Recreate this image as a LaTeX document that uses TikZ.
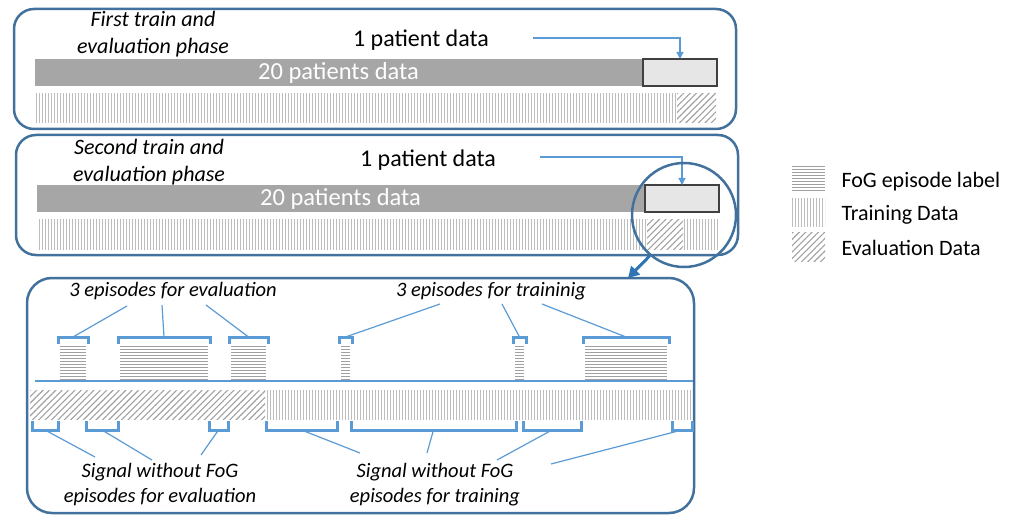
\documentclass[tikz,border=0pt]{standalone}
\usepackage{fontspec}
\setmainfont{Carlito}
\usepackage{xcolor}
\usepackage{tikz}
\usetikzlibrary{arrows.meta,patterns.meta,positioning}

\definecolor{boxblue}{HTML}{41719C}
\definecolor{linkblue}{HTML}{5B9BD5}
\definecolor{arrowblue}{HTML}{2E75B6}
\definecolor{barfill}{HTML}{A6A6A6}
\definecolor{cellfill}{HTML}{E6E6E6}
\definecolor{celldraw}{HTML}{404040}
\definecolor{stripe}{HTML}{BDBDBD}
\definecolor{hatch}{HTML}{A0A0A0}

\begin{document}
\begin{tikzpicture}[x=1pt,y=-1pt,
  phasebox/.style={draw=boxblue,line width=2.5pt,rounded corners=20pt},
  block/.style={anchor=north west,inner sep=0pt,outer sep=0pt},
  patientbar/.style={block,fill=barfill,text=white,font=\fontsize{24.5}{28}\selectfont},
  cellbox/.style={block,fill=cellfill,draw=celldraw,line width=2pt},
  trainpat/.style={block,pattern={Lines[angle=90,distance=3pt,line width=1pt]},pattern color=stripe},
  evalpat/.style={block,pattern={Lines[angle=45,distance=4.5pt,line width=1.1pt]},pattern color=hatch},
  fogpat/.style={block,path picture={
    \foreach \k in {1.5,4.5,...,34.5}
      \draw[hatch,line width=1pt] ([yshift=-\k pt]path picture bounding box.north west) -- ([yshift=-\k pt]path picture bounding box.north east);}},
  bigtext/.style={font=\fontsize{24}{28}\selectfont},
  phasetext/.style={align=center,font=\fontsize{22}{27}\selectfont\itshape},
  smalltext/.style={align=center,font=\fontsize{20.5}{25}\selectfont\itshape},
  legtext/.style={anchor=west,font=\fontsize{22}{26}\selectfont},
  conn/.style={draw=linkblue,line width=1.2pt},
  brk/.style={draw=linkblue,line width=3pt},
  tip/.style={-{Triangle[length=7pt,width=7pt]}}]

\useasboundingbox (0,0) rectangle (1021,516);

\draw[phasebox] (14,9) rectangle (736,129);
\node[phasetext] (phase) at (153,34) {First train and\\evaluation phase};
\node[bigtext] (one) at (421,40) {1 patient data};
\coordinate (onetail) at (533,38);

\node[patientbar,minimum width=607,minimum height=27] (rest) at (35,59) {20 patients data};
\node[cellbox,minimum width=74,minimum height=27] (cell) at (643,59) {};
\draw[conn,tip] (onetail) -| (cell.north);

\node[trainpat,minimum width=642,minimum height=29] (train) at (35,94) {};
\node[evalpat,minimum width=39,minimum height=29] (eval) at (677,94) {};

%%%%%%%%%%%%%%%
\begin{scope}[shift={(2,126)}]
\draw[phasebox] (14,9) rectangle (736,129);
\node[phasetext] (phase) at (147,36) {Second train and\\evaluation phase};
\node[bigtext] (one) at (426,34) {1 patient data};
\coordinate (onetail) at (538,31);

\node[patientbar,minimum width=607,minimum height=27] (rest) at (35,59) {20 patients data};
\node[cellbox,minimum width=74,minimum height=27] (cell) at (643,59) {};
\draw[conn,tip] (onetail) -| (cell.north);

\node[trainpat,minimum width=610,minimum height=29] (train) at (35,94) {};
\node[evalpat,minimum width=36,minimum height=29] (eval) at (645,94) {};
\node[trainpat,minimum width=36,minimum height=29] (trainb) at (681,94) {};

\node[circle,draw=boxblue,line width=2.5pt,minimum size=104,inner sep=0pt] (zoom) at (682,89) {};
\end{scope}

\coordinate (dtop) at (628,278);
\draw[draw=arrowblue,line width=3pt,-{Triangle[length=11pt,width=12pt]}] (zoom.230) -- (dtop);

%%%%%%%%%%%%%%%
\node[fogpat,minimum width=33,minimum height=28] (kfog) at (792,165) {};
\node[legtext] (kfogtext) at (838,182) {FoG episode label};
\node[trainpat,minimum width=33,minimum height=28] (ktrain) at (792,199) {};
\node[legtext] (ktraintext) at (838,215) {Training Data};
\node[evalpat,minimum width=33,minimum height=28] (keval) at (792,233) {};
\node[legtext] (kevaltext) at (838,248) {Evaluation Data};

%%%%%%%%%%%%%%%
\draw[phasebox,rounded corners=25pt] (27,278) rectangle (694,513);
\node[smalltext] (evalep) at (173,291) {3 episodes for evaluation};
\node[smalltext] (trainep) at (491,291) {3 episodes for traininig};

\node[fogpat,minimum width=26,minimum height=35] (e1) at (60,345) {};
\node[fogpat,minimum width=88,minimum height=35] (e2) at (120,345) {};
\node[fogpat,minimum width=35,minimum height=35] (e3) at (231,345) {};
\node[fogpat,minimum width=9,minimum height=35] (t1) at (341,345) {};
\node[fogpat,minimum width=9,minimum height=35] (t2) at (515,345) {};
\node[fogpat,minimum width=82,minimum height=35] (t3) at (585,345) {};

\draw[brk] ([shift={(-2,-1)}]e1.north west) |- ([shift={(0,-8)}]e1.north) -| ([shift={(2,-1)}]e1.north east);
\draw[brk] ([shift={(-2,-1)}]e2.north west) |- ([shift={(0,-8)}]e2.north) -| ([shift={(2,-1)}]e2.north east);
\draw[brk] ([shift={(-2,-1)}]e3.north west) |- ([shift={(0,-8)}]e3.north) -| ([shift={(2,-1)}]e3.north east);
\draw[brk] ([shift={(-2,-1)}]t1.north west) |- ([shift={(0,-8)}]t1.north) -| ([shift={(2,-1)}]t1.north east);
\draw[brk] ([shift={(-2,-1)}]t2.north west) |- ([shift={(0,-8)}]t2.north) -| ([shift={(2,-1)}]t2.north east);
\draw[brk] ([shift={(-2,-1)}]t3.north west) |- ([shift={(0,-8)}]t3.north) -| ([shift={(2,-1)}]t3.north east);

\coordinate (ce1) at (127,306);
\coordinate (ce2) at (162,305);
\coordinate (ce3) at (206,305);
\coordinate (ct1) at (440,304);
\coordinate (ct2) at (502,304);
\coordinate (ct3) at (542,304);
\draw[conn] ([shift={(0,-8)}]e1.north) -- (ce1);
\draw[conn] ([shift={(0,-8)}]e2.north) -- (ce2);
\draw[conn] ([shift={(0,-8)}]e3.north) -- (ce3);
\draw[conn] ([shift={(0,-8)}]t1.north) -- (ct1);
\draw[conn] ([shift={(0,-8)}]t2.north) -- (ct2);
\draw[conn] ([shift={(0,-8)}]t3.north) -- (ct3);

\draw[conn,line width=1.8pt] (35,381) -- (693,381);
\node[evalpat,minimum width=235,minimum height=29] (evalsig) at (30,390) {};
\node[trainpat,minimum width=427,minimum height=29] (trainsig) at (265,390) {};

\draw[brk] (32,421) |- node[coordinate,pos=.75] (s1) {} (58,430) -- (58,421);
\draw[brk] (86,421) |- node[coordinate,pos=.75] (s2) {} (118,430) -- (118,421);
\draw[brk] (209,421) |- node[coordinate,pos=.75] (s3) {} (228,430) -- (228,421);
\draw[brk] (266,421) |- node[coordinate,pos=.75] (s4) {} (337,430) -- (337,421);
\draw[brk] (351,421) |- node[coordinate,pos=.75] (s5) {} (516,430) -- (516,421);
\draw[brk] (523,421) |- node[coordinate,pos=.75] (s6) {} (581,430) -- (581,421);
\draw[brk] (672,421) |- node[coordinate,pos=.75] (s7) {} (692,430) -- (692,421);

\coordinate (cs1) at (95,457);
\coordinate (cs2) at (152,460);
\coordinate (cs3) at (201,455);
\coordinate (cs4) at (360,453);
\coordinate (cs5) at (427,453);
\coordinate (cs6) at (497,460);
\coordinate (cs7) at (551,464);
\draw[conn] (s1) -- (cs1);
\draw[conn] (s2) -- (cs2);
\draw[conn] (s3) -- (cs3);
\draw[conn] (s4) -- (cs4);
\draw[conn] (s5) -- (cs5);
\draw[conn] (s6) -- (cs6);
\draw[conn] (s7) -- (cs7);

\node[smalltext] (evalsigtext) at (160,485) {Signal without FoG\\episodes for evaluation};
\node[smalltext] (trainsigtext) at (435,485) {Signal without FoG\\episodes for training};

\end{tikzpicture}
\end{document}
